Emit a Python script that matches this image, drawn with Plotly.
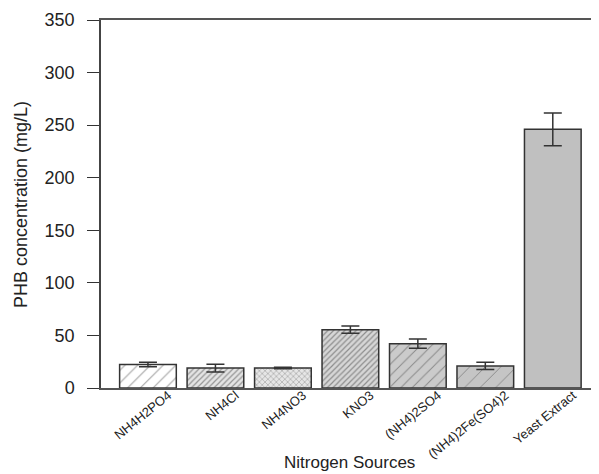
import plotly.graph_objects as go

categories = ["NH4H2PO4", "NH4Cl", "NH4NO3", "KNO3", "(NH4)2SO4", "(NH4)2Fe(SO4)2", "Yeast Extract"]
phb_mean = [22.3, 19.0, 19.0, 55.5, 42.2, 21.0, 246.0]
phb_err = [2.2, 3.7, 0.8, 3.4, 4.3, 3.4, 15.6]
y_ticks = [0, 50, 100, 150, 200, 250, 300, 350]

# fill styling per bar (patterns imitate the original textures)
bg_colors = ["#ffffff", "#e4e4e4", "#e6e6e6", "#d6d6d6", "#cbcbcb", "#c5c5c5", "#c0c0c0"]
fg_colors = ["#b0b0b0", "#bcbcbc", "#c4c4c4", "#f0f0f0", "#f2f2f2", "#f4f4f4", "#c0c0c0"]
shapes_p = ["/", "/", "x", "/", "/", "/", ""]
sizes_p = [9, 4, 4, 4, 8, 11, 8]
solid_p = [0.12, 0.3, 0.25, 0.3, 0.12, 0.08, 0.2]

xpos = list(range(len(categories)))
label_shift = 0.3

fig = go.Figure()
fig.add_trace(go.Bar(
    x=xpos,
    y=phb_mean,
    width=0.84,
    marker=dict(
        color=bg_colors,
        line=dict(color="#333333", width=1.5),
        pattern=dict(shape=shapes_p, fgcolor=fg_colors, bgcolor=bg_colors,
                     size=sizes_p, solidity=solid_p, fillmode="overlay"),
    ),
    error_y=dict(type="data", array=phb_err, visible=True,
                 color="#333333", thickness=1.5, width=9),
    showlegend=False,
))

# the page body adds an 8px offset, so the figure is sized to fit inside the window
fig.update_layout(
    width=591, height=466,
    margin=dict(l=93, r=1, t=12, b=86),
    paper_bgcolor="white", plot_bgcolor="white",
    font=dict(family="Liberation Sans, Arial, sans-serif", color="#222222"),
    xaxis=dict(
        range=[-0.696, 6.67],
        tickmode="array",
        tickvals=[p + label_shift for p in xpos],
        ticktext=categories,
        tickangle=-39,
        tickfont=dict(size=13),
        ticklabelstandoff=-7,
        ticks="",
        automargin=False,
        showline=True, linecolor="#555555", linewidth=1.5, mirror=True,
        showgrid=False, zeroline=False,
    ),
    yaxis=dict(
        range=[0, 350],
        tickmode="array",
        tickvals=y_ticks,
        ticks="outside", ticklen=12, tickwidth=1.2, tickcolor="#333333",
        tickfont=dict(size=18),
        ticklabelstandoff=9,
        automargin=False,
        showline=True, linecolor="#444444", linewidth=1.5,
        showgrid=False, zeroline=False,
    ),
    shapes=[dict(type="line", xref="paper", yref="paper", x0=1, x1=1, y0=0, y1=1,
                 line=dict(color="#bbbbbb", width=1.5))],
    annotations=[
        dict(text="Nitrogen Sources", xref="paper", yref="paper", x=0.5, y=-0.203,
             xanchor="center", yanchor="middle", showarrow=False, font=dict(size=17)),
        dict(text="PHB concentration (mg/L)", xref="paper", yref="paper", x=-0.161, y=0.5,
             xanchor="center", yanchor="middle", textangle=-90, showarrow=False,
             font=dict(size=18)),
    ],
)

fig.write_html("out.html")
